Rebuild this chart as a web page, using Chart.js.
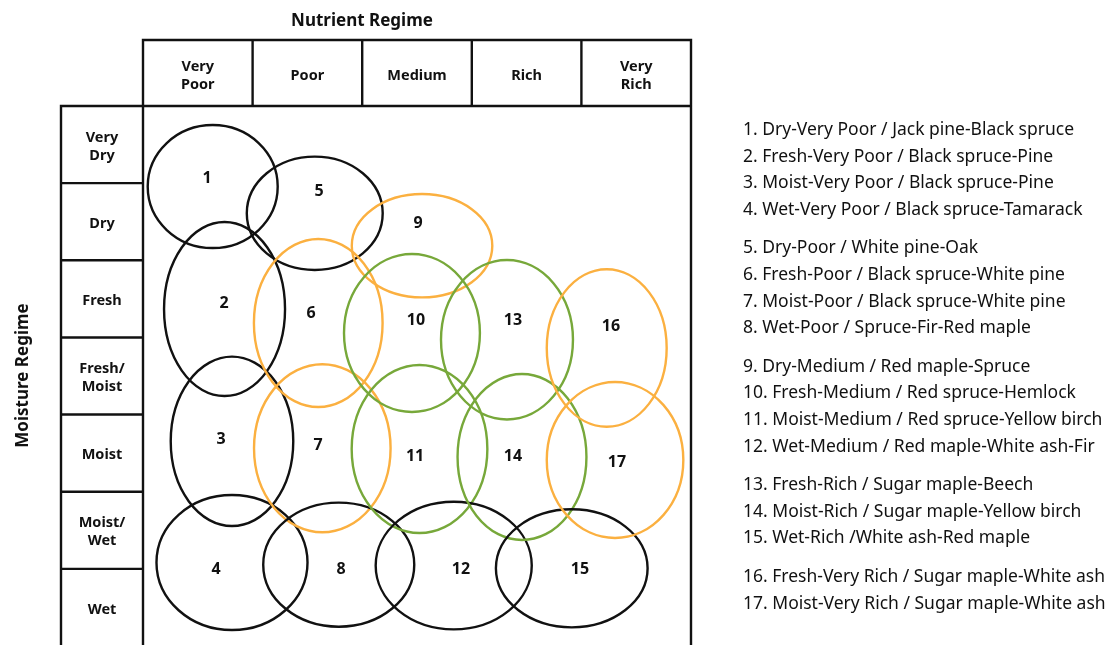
<!DOCTYPE html>
<html lang="en">
<head>
  <meta charset="UTF-8">
  <title>Edatopic Grid</title>
  <script src="https://cdn.jsdelivr.net/npm/chart.js"></script>
  <style>
    body { margin: 0; overflow: hidden; background: #fff; }
  </style>
</head>
<body>
  <canvas id="grafico" width="1107" height="650"></canvas>

  <script>
    // categories
    const nutrienti = [['Very', 'Poor'], ['Poor'], ['Medium'], ['Rich'], ['Very', 'Rich']];
    const umidita = [['Very', 'Dry'], ['Dry'], ['Fresh'], ['Fresh/', 'Moist'], ['Moist'], ['Moist/', 'Wet'], ['Wet']];

    // ellipses: center (column units, row units), half width, half height
    const numeri = ['1', '2', '3', '4', '5', '6', '7', '8', '9', '10', '11', '12', '13', '14', '15', '16', '17'];
    const centroX = [0.636, 0.744, 0.812, 0.812, 1.567, 1.599, 1.636, 1.786, 2.546, 2.454, 2.523, 2.835, 3.321, 3.458, 3.912, 4.231, 4.307];
    const centroY = [1.044, 2.632, 4.347, 5.918, 1.391, 2.813, 4.437, 5.946, 1.811, 2.943, 4.446, 5.957, 3.030, 4.550, 5.993, 3.137, 4.589];
    const raggioX = [0.593, 0.552, 0.559, 0.689, 0.620, 0.587, 0.623, 0.689, 0.641, 0.620, 0.619, 0.712, 0.602, 0.588, 0.692, 0.547, 0.623];
    const raggioY = [0.797, 1.128, 1.098, 0.875, 0.735, 1.089, 1.089, 0.804, 0.670, 1.024, 1.089, 0.827, 1.033, 1.076, 0.765, 1.020, 1.011];
    const etichettaX = [0.584, 0.739, 0.712, 0.666, 1.606, 1.533, 1.597, 1.807, 2.509, 2.491, 2.482, 2.901, 3.376, 3.376, 3.987, 4.270, 4.325];
    const etichettaY = [0.920, 2.541, 4.304, 5.989, 1.089, 2.670, 4.382, 5.989, 1.504, 2.761, 4.524, 5.989, 2.761, 4.524, 5.989, 2.839, 4.602];
    const gruppo = ['k', 'k', 'k', 'k', 'k', 'o', 'o', 'k', 'o', 'g', 'g', 'k', 'g', 'g', 'k', 'o', 'o'];

    const colori = { k: '#111111', o: '#fbb040', g: '#77a83a' };

    // legend text on the right, split in groups
    const legenda = [
      ['1. Dry-Very Poor / Jack pine-Black spruce',
       '2. Fresh-Very Poor / Black spruce-Pine',
       '3. Moist-Very Poor / Black spruce-Pine',
       '4. Wet-Very Poor / Black spruce-Tamarack'],
      ['5. Dry-Poor / White pine-Oak',
       '6. Fresh-Poor / Black spruce-White pine',
       '7. Moist-Poor / Black spruce-White pine',
       '8. Wet-Poor / Spruce-Fir-Red maple'],
      ['9. Dry-Medium / Red maple-Spruce',
       '10. Fresh-Medium / Red spruce-Hemlock',
       '11. Moist-Medium / Red spruce-Yellow birch',
       '12. Wet-Medium / Red maple-White ash-Fir'],
      ['13. Fresh-Rich / Sugar maple-Beech',
       '14. Moist-Rich / Sugar maple-Yellow birch',
       '15. Wet-Rich /White ash-Red maple'],
      ['16. Fresh-Very Rich / Sugar maple-White ash',
       '17. Moist-Very Rich / Sugar maple-White ash']
    ];

    const FONT = '"Noto Sans", "Open Sans", sans-serif';

    const griglia = {
      id: 'griglia',
      afterDraw(chart) {
        const ctx = chart.ctx;
        const xs = chart.scales.x;
        const ys = chart.scales.y;
        const area = chart.chartArea;
        const topHeader = 40;
        const leftRows = 61;

        ctx.save();
        ctx.strokeStyle = '#111';
        ctx.lineWidth = 2.4;
        ctx.fillStyle = '#111';
        ctx.textAlign = 'center';
        ctx.textBaseline = 'middle';

        // title
        ctx.font = 'bold 17px ' + FONT;
        ctx.fillText('Nutrient Regime', 362, 21);

        // y title
        ctx.save();
        ctx.translate(23, (area.top + 645) / 2);
        ctx.rotate(-Math.PI / 2);
        ctx.fillText('Moisture Regime', 0, 0);
        ctx.restore();

        // plot frame
        ctx.beginPath();
        ctx.moveTo(area.left, area.bottom + 10);
        ctx.lineTo(area.left, topHeader);
        ctx.lineTo(area.right, topHeader);
        ctx.lineTo(area.right, area.bottom + 10);
        ctx.moveTo(area.left, area.top);
        ctx.lineTo(area.right, area.top);
        ctx.stroke();

        // header cells
        ctx.font = 'bold 14.5px ' + FONT;
        nutrienti.forEach((lab, i) => {
          const x0 = xs.getPixelForValue(i);
          const x1 = xs.getPixelForValue(i + 1);
          if (i > 0) {
            ctx.beginPath();
            ctx.moveTo(x0, topHeader);
            ctx.lineTo(x0, area.top);
            ctx.stroke();
          }
          const cy = (topHeader + area.top) / 2 + 3;
          lab.forEach((t, j) => {
            ctx.fillText(t, (x0 + x1) / 2, cy + (j - (lab.length - 1) / 2) * 18);
          });
        });

        // row cells
        ctx.beginPath();
        ctx.moveTo(leftRows, area.bottom + 10);
        ctx.lineTo(leftRows, area.top);
        ctx.lineTo(area.left, area.top);
        ctx.stroke();
        umidita.forEach((lab, i) => {
          const y0 = ys.getPixelForValue(i);
          const y1 = ys.getPixelForValue(i + 1);
          if (i > 0) {
            ctx.beginPath();
            ctx.moveTo(leftRows, y0);
            ctx.lineTo(area.left, y0);
            ctx.stroke();
          }
          const cy = (y0 + y1) / 2 + 2;
          lab.forEach((t, j) => {
            ctx.fillText(t, (leftRows + area.left) / 2, cy + (j - (lab.length - 1) / 2) * 18);
          });
        });

        // ellipses
        ctx.save();
        ctx.beginPath();
        ctx.rect(area.left, area.top, area.right - area.left, area.bottom - area.top);
        ctx.clip();
        ctx.lineWidth = 2.4;
        numeri.forEach((n, i) => {
          const px = xs.getPixelForValue(centroX[i]);
          const py = ys.getPixelForValue(centroY[i]);
          const rx = Math.abs(xs.getPixelForValue(centroX[i] + raggioX[i]) - px);
          const ry = Math.abs(ys.getPixelForValue(centroY[i] + raggioY[i]) - py);
          ctx.strokeStyle = colori[gruppo[i]];
          ctx.beginPath();
          ctx.ellipse(px, py, rx, ry, 0, 0, Math.PI * 2);
          ctx.stroke();
        });
        ctx.fillStyle = '#111';
        ctx.font = 'bold 16px ' + FONT;
        numeri.forEach((n, i) => {
          ctx.fillText(n, xs.getPixelForValue(etichettaX[i]), ys.getPixelForValue(etichettaY[i]) + 1);
        });
        ctx.restore();

        // legend text
        ctx.textAlign = 'left';
        ctx.font = '17.5px ' + FONT;
        let y = 130;
        legenda.forEach(g => {
          g.forEach(t => {
            ctx.fillText(t, 743, y);
            y += 26.6;
          });
          y += 12;
        });

        ctx.restore();
      }
    };

    const ctx = document.getElementById('grafico').getContext('2d');
    const chart = new Chart(ctx, {
      type: 'scatter',
      data: { datasets: [{ data: [], pointRadius: 0 }] },
      options: {
        responsive: false,
        animation: false,
        events: [],
        layout: { padding: { left: 143, top: 106, right: 416, bottom: 4 } },
        plugins: { legend: { display: false }, tooltip: { enabled: false } },
        scales: {
          x: { type: 'linear', min: 0, max: 5, display: false },
          y: { type: 'linear', min: 0, max: 7, reverse: true, display: false }
        }
      },
      plugins: [griglia]
    });
  </script>
</body>
</html>
